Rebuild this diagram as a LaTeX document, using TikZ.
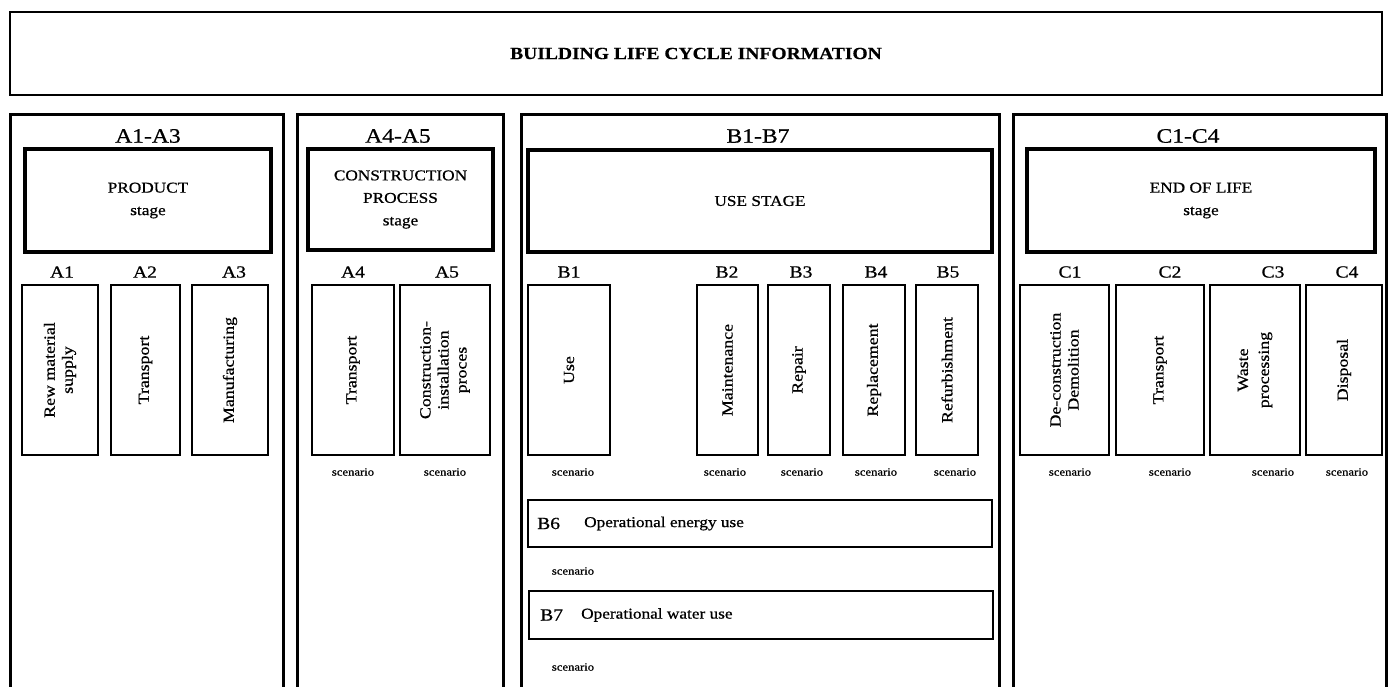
\documentclass[tikz,border=0pt]{standalone}
\usepackage{fontspec}
\setmainfont{Liberation Serif}[FakeStretch=1.15, UprightFeatures={FakeBold=0.7}, BoldFeatures={FakeBold=0.5}]
\begin{document}
\begin{tikzpicture}[x=1pt,y=-1pt,
  topbox/.style={draw, line width=2.6pt, inner sep=0pt, minimum width=1372, minimum height=83, font=\bfseries\fontsize{17}{20}\selectfont},
  grp/.style={line width=3pt},
  stagebox/.style={draw, line width=3.2pt, align=center, inner sep=0pt, font=\fontsize{15}{22.5}\selectfont},
  cellbox/.style={draw, line width=1.5pt, rotate=90, align=center, inner sep=0pt, minimum width=170, font=\fontsize{15.5}{18}\selectfont},
  grplabel/.style={font=\fontsize{20.5}{24}\selectfont, inner sep=0pt},
  codelabel/.style={font=\fontsize{17}{20}\selectfont, inner sep=0pt},
  scen/.style={font=\fontsize{11}{13}\selectfont, inner sep=0pt},
  rowbox/.style={draw, line width=2pt, inner sep=0pt, minimum width=464},
  rowcode/.style={font=\fontsize{17}{20}\selectfont, inner sep=0pt, anchor=west},
  rowtext/.style={font=\fontsize{15}{18}\selectfont, inner sep=0pt, anchor=west},
]
\useasboundingbox[fill=white] (0,0) rectangle (1391,687);

% top box
\node[topbox] (top) at (696,53.5) {BUILDING LIFE CYCLE INFORMATION};

% group outlines (open at bottom)
\draw[grp] (10,690) -- (10,115) -- (283,115) -- (283,690);
\draw[grp] (297,690) -- (297,115) -- (503,115) -- (503,690);
\draw[grp] (521,690) -- (521,115) -- (999,115) -- (999,690);
\draw[grp] (1013,690) -- (1013,115) -- (1386,115) -- (1386,690);

% group labels
\node[grplabel] (gA) at (148,136) {A1-A3};
\node[grplabel] (gAA) at (398,136) {A4-A5};
\node[grplabel] (gB) at (758,136) {B1-B7};
\node[grplabel] (gC) at (1188,136) {C1-C4};

% stage boxes
\node[stagebox, minimum width=246, minimum height=103] (sA) at (148,200.5) {PRODUCT\\stage};
\node[stagebox, minimum width=185, minimum height=101] (sAA) at (400.5,199.5) {CONSTRUCTION\\PROCESS\\stage};
\node[stagebox, minimum width=464, minimum height=102] (sB) at (760,201) {USE STAGE};
\node[stagebox, minimum width=348, minimum height=103] (sC) at (1201,200.5) {END OF LIFE\\stage};

% module codes
\node[codelabel] (lA1) at (62,272) {A1};
\node[codelabel] (lA2) at (145,272) {A2};
\node[codelabel] (lA3) at (234,272) {A3};
\node[codelabel] (lA4) at (353,272) {A4};
\node[codelabel] (lA5) at (447,272) {A5};
\node[codelabel] (lB1) at (569,272) {B1};
\node[codelabel] (lB2) at (727,272) {B2};
\node[codelabel] (lB3) at (801,272) {B3};
\node[codelabel] (lB4) at (876,272) {B4};
\node[codelabel] (lB5) at (948,272) {B5};
\node[codelabel] (lC1) at (1070,272) {C1};
\node[codelabel] (lC2) at (1170,272) {C2};
\node[codelabel] (lC3) at (1273,272) {C3};
\node[codelabel] (lC4) at (1347,272) {C4};

% module cells (rotated: minimum height = horizontal width)
\node[cellbox, minimum height=76] (A1) at (60,370) {Rew material\\supply};
\node[cellbox, minimum height=69] (A2) at (145.5,370) {Transport};
\node[cellbox, minimum height=76] (A3) at (230,370) {Manufacturing};
\node[cellbox, minimum height=82] (A4) at (353,370) {Transport};
\node[cellbox, minimum height=90] (A5) at (445,370) {Construction-\\installation\\proces};
\node[cellbox, minimum height=82] (B1) at (569,370) {Use};
\node[cellbox, minimum height=61] (B2) at (727.5,370) {Maintenance};
\node[cellbox, minimum height=62] (B3) at (799,370) {Repair};
\node[cellbox, minimum height=62] (B4) at (874,370) {Replacement};
\node[cellbox, minimum height=62] (B5) at (947,370) {Refurbishment};
\node[cellbox, minimum height=89] (C1) at (1064.5,370) {De-construction\\Demolition};
\node[cellbox, minimum height=88] (C2) at (1160,370) {Transport};
\node[cellbox, minimum height=90, font=\fontsize{15.5}{21}\selectfont] (C3) at (1255,370) {Waste\\processing};
\node[cellbox, minimum height=76] (C4) at (1344,370) {Disposal};

% scenario labels
\node[scen] (scA4) at (353,472) {scenario};
\node[scen] (scA5) at (445,472) {scenario};
\node[scen] (scB1) at (573,472) {scenario};
\node[scen] (scB2) at (725,472) {scenario};
\node[scen] (scB3) at (802,472) {scenario};
\node[scen] (scB4) at (876,472) {scenario};
\node[scen] (scB5) at (955,472) {scenario};
\node[scen] (scC1) at (1070,472) {scenario};
\node[scen] (scC2) at (1170,472) {scenario};
\node[scen] (scC3) at (1273,472) {scenario};
\node[scen] (scC4) at (1347,472) {scenario};

% B6 / B7 rows
\node[rowbox, minimum height=47] (B6) at (760,523.5) {};
\node[rowcode] (B6c) at ([xshift=10pt]B6.west) {B6};
\node[rowtext] (B6t) at ([xshift=57pt]B6.west) {Operational energy use};
\node[scen] (scB6) at (573,571) {scenario};

\node[rowbox, minimum height=48] (B7) at (761,615) {};
\node[rowcode] (B7c) at ([xshift=12pt]B7.west) {B7};
\node[rowtext] (B7t) at ([xshift=53pt]B7.west) {Operational water use};
\node[scen] (scB7) at (573,667) {scenario};
\end{tikzpicture}
\end{document}
